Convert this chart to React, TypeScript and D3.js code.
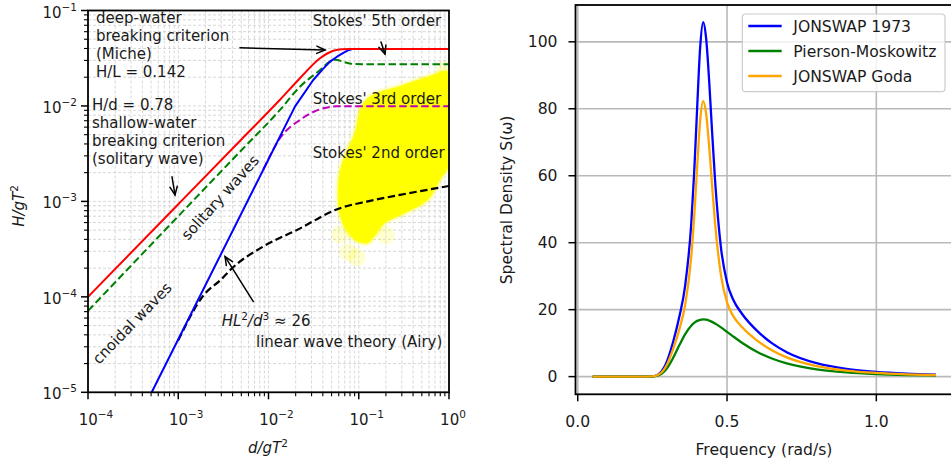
import React from 'react';
import * as d3 from 'd3';

const W = 951;
const H = 464;
const FONT = "'DejaVu Sans', Verdana, sans-serif";

// ---------- Left chart data (d/gT^2, H/gT^2) ----------
const redBreaking: [number, number][] = [
  [1e-4, 1e-4], [1e-3, 9.33e-4], [5e-3, 4.45e-3], [0.0134, 0.0116],
  [0.0223, 0.0195], [0.0372, 0.0316], [0.0523, 0.0379], [0.0647, 0.0393], [0.08, 0.0395], [1, 0.0395],
];
const greenShallow: [number, number][] = [
  [1e-4, 7.13e-5], [1e-3, 7.0e-4], [5e-3, 3.43e-3], [0.0134, 0.00908], [0.0223, 0.0159],
  [0.0372, 0.0238], [0.048, 0.0291], [0.0546, 0.0304], [0.0735, 0.0284], [0.0871, 0.0275], [0.12, 0.0273], [1, 0.0273],
];
const blueCnoidal: [number, number][] = [
  [5.08e-4, 1e-5], [0.0197, 0.0099], [0.0313, 0.0187], [0.04, 0.0243],
  [0.048, 0.0291], [0.058, 0.033], [0.0675, 0.036], [0.076, 0.0382], [0.0835, 0.0392],
];
const magentaStokes3: [number, number][] = [
  [0.00876, 0.00216], [0.0134, 0.00459], [0.0223, 0.00713], [0.0372, 0.00923], [0.057, 0.0099], [0.09, 0.0099], [1, 0.0099],
];
const blackUrsell: [number, number][] = [
  [1.0e-3, 3.5e-5], [1.88e-3, 1.02e-4], [3.05e-3, 1.55e-4], [3.74e-3, 1.9e-4], [8.75e-3, 3.37e-4],
  [0.0205, 5.0e-4], [0.062, 8.49e-4], [0.1225, 9.96e-4], [0.2864, 1.17e-3], [1, 1.45e-3],
];
const observationBlob: [number, number][] = [
  [0.272, 0.0159], [0.616, 0.0206], [1.0, 0.0227], [1.0, 0.00241], [0.794, 0.00168], [0.585, 0.00104],
  [0.323, 7.52e-4], [0.194, 5.91e-4], [0.15, 4.35e-4], [0.1266, 3.65e-4], [0.0902, 3.95e-4],
  [0.0641, 6.4e-4], [0.0589, 1.43e-3], [0.0669, 2.72e-3], [0.0902, 5.18e-3], [0.1067, 9.84e-3], [0.14, 0.013],
];
const paleObservations: [number, number][] = [
  [0.076, 2.95e-4], [0.095, 2.6e-4], [0.2, 4.4e-4], [0.9, 0.024], [0.062, 4.5e-4],
];
const xDecades = [-4, -3, -2, -1, 0];
const yDecades = [-5, -4, -3, -2, -1];

// ---------- Right chart data (frequency, spectral density) ----------
const freq = [0.05, 0.1, 0.15, 0.2, 0.25, 0.27, 0.29, 0.30, 0.32, 0.34, 0.36, 0.38, 0.39, 0.40, 0.41, 0.42, 0.43, 0.44, 0.45, 0.46, 0.48, 0.50, 0.52, 0.55, 0.60, 0.65, 0.70, 0.80, 0.90, 1.00, 1.10, 1.20];
const jonswap1973 = [0, 0, 0, 0, 0.07, 0.67, 2.87, 4.87, 10.56, 17.79, 27.36, 45.47, 61.0, 80.38, 98.31, 105.85, 101.0, 88.6, 73.11, 58.57, 38.32, 28.13, 23.1, 18.78, 13.73, 9.99, 7.29, 4.0, 2.3, 1.39, 0.87, 0.57];
const piersonMoskowitz = [0, 0, 0, 0, 0.04, 0.36, 1.55, 2.63, 5.69, 9.34, 12.72, 15.22, 16.07, 16.65, 16.98, 17.08, 16.99, 16.74, 16.35, 15.87, 14.7, 13.37, 12.04, 10.12, 7.42, 5.4, 3.94, 2.16, 1.24, 0.75, 0.47, 0.31];
const jonswapGoda = [0, 0, 0, 0, 0.055, 0.53, 2.27, 3.84, 8.34, 14.04, 21.55, 35.67, 47.71, 62.68, 76.49, 82.29, 78.55, 69.01, 57.06, 45.82, 30.12, 22.17, 18.22, 14.79, 10.83, 7.88, 5.75, 3.16, 1.81, 1.09, 0.69, 0.45];
const seriesNames = ['JONSWAP 1973', 'Pierson-Moskowitz', 'JONSWAP Goda'];
const seriesColors = ['#0000ff', '#008000', '#ffa500'];
const xTicksR = [0, 0.5, 1.0];
const yTicksR = [0, 20, 40, 60, 80, 100];

// annotation arrows in data coords [tail, tip]
const arrows: [[number, number], [number, number]][] = [
  [[4.83e-3, 0.0407], [0.0423, 0.0386]],
  [[0.1764, 0.0468], [0.1954, 0.035]],
  [[8.53e-4, 1.81e-3], [9.2e-4, 1.17e-3]],
  [[6.79e-3, 8.93e-5], [3.3e-3, 2.64e-4]],
];

function Arrow({ x1, y1, x2, y2 }: { x1: number; y1: number; x2: number; y2: number }) {
  const ang = Math.atan2(y2 - y1, x2 - x1);
  const L = 9;
  const a = 0.42;
  const p1 = [x2 - L * Math.cos(ang - a), y2 - L * Math.sin(ang - a)];
  const p2 = [x2 - L * Math.cos(ang + a), y2 - L * Math.sin(ang + a)];
  return (
    <g stroke="#000" strokeWidth={1.5} fill="none" strokeLinecap="round">
      <line x1={x1} y1={y1} x2={x2} y2={y2} />
      <polyline points={`${p1[0]},${p1[1]} ${x2},${y2} ${p2[0]},${p2[1]}`} />
    </g>
  );
}

export default function App() {
  // left scales
  const xL = d3.scaleLog().domain([1e-4, 1]).range([88, 449]);
  const yL = d3.scaleLog().domain([1e-5, 1e-1]).range([392.3, 10.5]);
  const lineL = d3.line<[number, number]>().x(d => xL(d[0])).y(d => yL(d[1])).curve(d3.curveMonotoneX);
  const lineLin = d3.line<[number, number]>().x(d => xL(d[0])).y(d => yL(d[1]));

  // right scales
  const xR = d3.scaleLinear().domain([-0.0075, 1.2575]).range([575.5, 953.2]);
  const yR = d3.scaleLinear().domain([-5.28, 111]).range([394.3, 5]);
  const lineR = d3.line<number>().x((_, i) => xR(freq[i])).y(d => yR(d)).curve(d3.curveMonotoneX);

  const xTicksAll = xL.ticks();
  const yTicksAll = yL.ticks();
  const isMajor = (v: number) => Math.abs(Math.log10(v) - Math.round(Math.log10(v))) < 1e-6;

  const blobPath = d3.line<[number, number]>().x(d => xL(d[0])).y(d => yL(d[1])).curve(d3.curveCatmullRomClosed.alpha(0.5))(observationBlob) || '';

  const [lx0, lx1] = xL.range();
  const [ly0, ly1] = [yL.range()[1], yL.range()[0]];

  const textStyle: React.CSSProperties = { fontFamily: FONT, fontSize: 15, fill: '#1a1a1a' };
  const textStyleR: React.CSSProperties = { fontFamily: FONT, fontSize: 15.6, fill: '#1a1a1a' };

  return (
    <svg width={W} height={H} style={{ position: 'absolute', left: 0, top: 0, background: '#fff' }} fontFamily={FONT}>
      <defs>
        <clipPath id="clipL">
          <rect x={lx0} y={ly0} width={lx1 - lx0} height={ly1 - ly0} />
        </clipPath>
        <clipPath id="clipR">
          <rect x={575.5} y={5} width={953.2 - 575.5} height={394.3 - 5} />
        </clipPath>
        <filter id="soft" x="-20%" y="-20%" width="140%" height="140%">
          <feGaussianBlur stdDeviation="2" />
        </filter>
      </defs>
      <rect x={0} y={0} width={W} height={H} fill="#fff" />

      {/* ================= LEFT CHART ================= */}
      <g clipPath="url(#clipL)">
        {xTicksAll.map((v, i) => (
          <line key={'gx' + i} x1={xL(v)} x2={xL(v)} y1={ly0} y2={ly1} stroke="#d3d3d3" strokeWidth={0.9} strokeDasharray="3,2" />
        ))}
        {yTicksAll.map((v, i) => (
          <line key={'gy' + i} x1={lx0} x2={lx1} y1={yL(v)} y2={yL(v)} stroke="#d3d3d3" strokeWidth={0.9} strokeDasharray="3,2" />
        ))}
        {paleObservations.map((d, i) => (
          <circle key={'po' + i} cx={xL(d[0])} cy={yL(d[1])} r={9} fill="#ffff00" opacity={0.18} />
        ))}
        <path d={blobPath} fill="#ffff00" filter="url(#soft)" />
        <path d={blobPath} fill="#ffff00" opacity={0.9} />

        <path d={lineL(magentaStokes3) || ''} fill="none" stroke="#bf00bf" strokeWidth={2} strokeDasharray="7.5,3.5" />
        <path d={lineL(blackUrsell) || ''} fill="none" stroke="#000" strokeWidth={2.2} strokeDasharray="7.5,3.5" />
        <path d={lineL(greenShallow) || ''} fill="none" stroke="#008000" strokeWidth={2} strokeDasharray="7.5,3.5" />
        <path d={lineLin(blueCnoidal) || ''} fill="none" stroke="#0000ff" strokeWidth={2} strokeLinejoin="round" />
        <path d={lineL(redBreaking) || ''} fill="none" stroke="#ff0000" strokeWidth={2} />
      </g>

      {/* left annotations */}
      <g style={textStyle}>
        <text x={96} y={22.7}>deep-water</text>
        <text x={96} y={40.9}>breaking criterion</text>
        <text x={96} y={59.1}>(Miche)</text>
        <text x={96} y={77.3}>H/L = 0.142</text>
        <text x={92} y={110}>H/d = 0.78</text>
        <text x={92} y={128.2}>shallow-water</text>
        <text x={92} y={146.4}>breaking criterion</text>
        <text x={92} y={164.4}>(solitary wave)</text>
        <text x={312.7} y={26.3}>Stokes' 5th order</text>
        <text x={312.7} y={103.5}>Stokes' 3rd order</text>
        <text x={312.7} y={157.5}>Stokes' 2nd order</text>
        <text x={0} y={0} transform="translate(188,241) rotate(-48)">solitary waves</text>
        <text x={0} y={0} transform="translate(99,365) rotate(-46)">cnoidal waves</text>
        <text x={221.7} y={326}>
          <tspan fontStyle="italic">HL</tspan>
          <tspan fontSize={10.5} dy={-6}>2</tspan>
          <tspan dy={6} fontStyle="italic">/d</tspan>
          <tspan fontSize={10.5} dy={-6}>3</tspan>
          <tspan dy={6}>{' \u2248 26'}</tspan>
        </text>
        <text x={256} y={347}>linear wave theory (Airy)</text>
      </g>
      {arrows.map((a, i) => (
        <Arrow key={'ar' + i} x1={xL(a[0][0])} y1={yL(a[0][1])} x2={xL(a[1][0])} y2={yL(a[1][1])} />
      ))}

      {/* left frame */}
      <rect x={lx0} y={ly0} width={lx1 - lx0} height={ly1 - ly0} fill="none" stroke="#000" strokeWidth={1.8} />
      {/* left ticks */}
      {xTicksAll.map((v, i) => (
        <line key={'tx' + i} x1={xL(v)} x2={xL(v)} y1={ly1} y2={ly1 + (isMajor(v) ? 7 : 4)} stroke="#000" strokeWidth={isMajor(v) ? 1.5 : 1.1} />
      ))}
      {yTicksAll.map((v, i) => (
        <line key={'ty' + i} x1={lx0} x2={lx0 - (isMajor(v) ? 7 : 4)} y1={yL(v)} y2={yL(v)} stroke="#000" strokeWidth={isMajor(v) ? 1.5 : 1.1} />
      ))}
      <g style={textStyle}>
        {xDecades.map(e => (
          <text key={'xl' + e} x={xL(Math.pow(10, e)) + (e === 0 ? 4 : 8)} y={425} textAnchor="middle">
            10<tspan fontSize={10.5} dy={-7}>{e === 0 ? '0' : '\u2212' + Math.abs(e)}</tspan>
          </text>
        ))}
        {yDecades.map(e => (
          <text key={'yl' + e} x={77} y={yL(Math.pow(10, e)) + 7} textAnchor="end">
            10<tspan fontSize={10.5} dy={-7}>{'\u2212' + Math.abs(e)}</tspan>
          </text>
        ))}
        <text x={268} y={453} textAnchor="middle">
          <tspan fontStyle="italic">d/gT</tspan>
          <tspan fontSize={10.5} dy={-6}>2</tspan>
        </text>
        <text transform="translate(24,206) rotate(-90)" textAnchor="middle">
          <tspan fontStyle="italic">H/gT</tspan>
          <tspan fontSize={10.5} dy={-6}>2</tspan>
        </text>
      </g>

      {/* ================= RIGHT CHART ================= */}
      <g clipPath="url(#clipR)">
        {xTicksR.map(v => (
          <line key={'rgx' + v} x1={xR(v)} x2={xR(v)} y1={5} y2={394.3} stroke="#b9b9b9" strokeWidth={1.6} />
        ))}
        {yTicksR.map(v => (
          <line key={'rgy' + v} x1={575.5} x2={953.2} y1={yR(v)} y2={yR(v)} stroke="#b9b9b9" strokeWidth={1.6} />
        ))}
        {[jonswap1973, piersonMoskowitz, jonswapGoda].map((s, i) => (
          <path key={'rs' + i} d={lineR(s) || ''} fill="none" stroke={seriesColors[i]} strokeWidth={2.3} strokeLinejoin="round" />
        ))}
      </g>
      <rect x={575.5} y={5} width={953.2 - 575.5} height={394.3 - 5} fill="none" stroke="#000" strokeWidth={1.8} />
      {xTicksR.map(v => (
        <line key={'rtx' + v} x1={xR(v)} x2={xR(v)} y1={394.3} y2={401.3} stroke="#000" strokeWidth={1.5} />
      ))}
      {yTicksR.map(v => (
        <line key={'rty' + v} x1={575.5} x2={568.5} y1={yR(v)} y2={yR(v)} stroke="#000" strokeWidth={1.5} />
      ))}
      <g style={textStyleR}>
        {xTicksR.map(v => (
          <text key={'rxl' + v} x={xR(v)} y={426.7} textAnchor="middle">{v.toFixed(1)}</text>
        ))}
        {yTicksR.map(v => (
          <text key={'ryl' + v} x={557.5} y={yR(v) + 5.6} textAnchor="end">{v}</text>
        ))}
        <text x={764} y={455} textAnchor="middle">Frequency (rad/s)</text>
        <text transform="translate(512,200) rotate(-90)" textAnchor="middle">Spectral Density S(ω)</text>
      </g>

      {/* legend */}
      <rect x={742.3} y={14} width={202.7} height={77.7} rx={3.5} fill="#fff" fillOpacity={0.8} stroke="#cccccc" strokeWidth={1.2} />
      {seriesNames.map((n, i) => (
        <g key={'lg' + i}>
          <line x1={748.3} x2={781.7} y1={26 + i * 25} y2={26 + i * 25} stroke={seriesColors[i]} strokeWidth={2.3} />
          <text x={793.3} y={31.5 + i * 25} style={textStyleR}>{n}</text>
        </g>
      ))}
    </svg>
  );
}
